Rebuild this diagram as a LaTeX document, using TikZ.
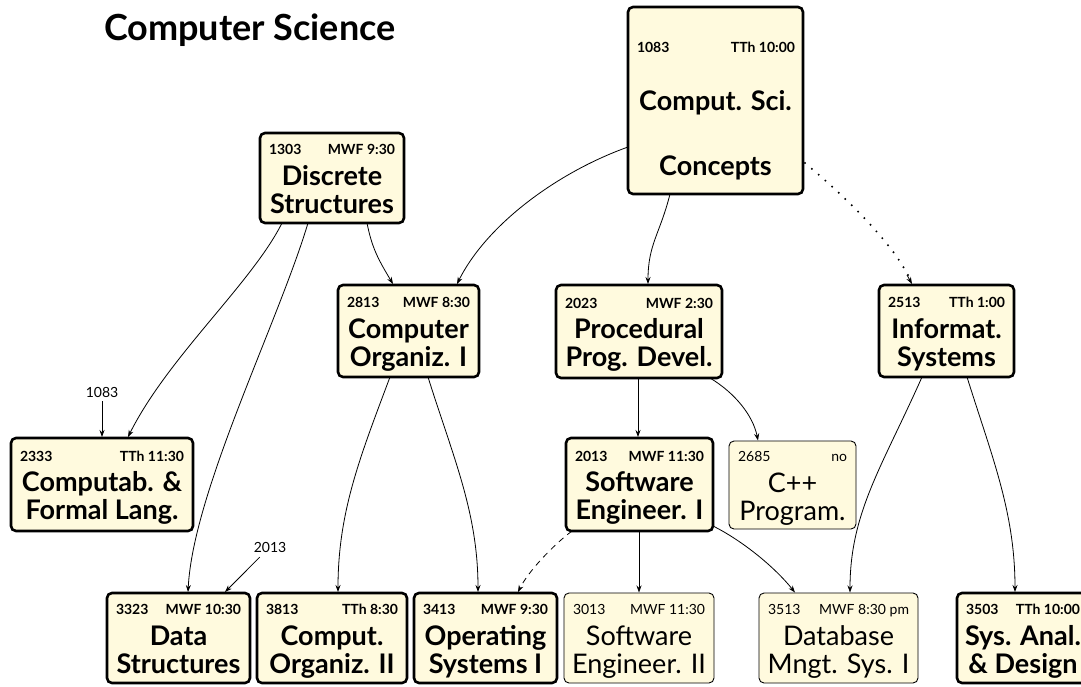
\documentclass[tikz,border=0pt]{standalone}
\usepackage{fontspec}
\setmainfont{Lato}
\usetikzlibrary{arrows.meta,calc}
\definecolor{boxfill}{RGB}{255,250,222}
\newcommand\cfsmall{\fontsize{14}{14}\selectfont}
\newcommand\cfbig{\fontsize{27}{27}\selectfont}
\tikzset{
  cbase/.style={draw, rounded corners=5pt, fill=boxfill, inner sep=0pt, outer sep=0pt},
  heavy/.style={cbase, line width=2.6pt},
  light/.style={cbase, line width=0.9pt},
  txt/.style={inner sep=0pt, outer sep=0pt},
  conn/.style={line width=0.8pt, -{Stealth[length=7pt,width=5pt]}},
  dashconn/.style={conn, dash pattern=on 6pt off 5pt},
  dotconn/.style={line cap=round, dash pattern=on 0pt off 9pt, line width=2.2pt},
  dottip/.style={line width=0.8pt, -{Stealth[length=7pt,width=5pt]}},
}
% box: [style]{name}{x1}{y1}{x2}{y2}
\newcommand\cbox[6][heavy]{%
  \node[#1, minimum width={(#5)-(#3)}, minimum height={(#6)-(#4)}]
    (#2) at ({((#3)+(#5))/2},{((#4)+(#6))/2}) {};}
% text: [weight]{name}{num}{time}{line1}{line2}
\newcommand\ctext[6][\bfseries]{%
  \node[txt, anchor=base west, font=\cfsmall#1] (#2-n) at ($(#2.west)+(9,-23.5)$) {#3};
  \node[txt, anchor=base east, font=\cfsmall#1] (#2-t) at ($(#2.east)+(-9,-23.5)$) {#4};
  \node[txt, anchor=base, font=\cfbig#1] (#2-a) at ($(#2.center)+(0,7)$) {#5};
  \node[txt, anchor=base, font=\cfbig#1] (#2-b) at ($(#2.center)+(0,35)$) {#6};}
\begin{document}
\begin{tikzpicture}[x=1pt,y=-1pt]
\useasboundingbox (0,0) rectangle (1081,686);
\clip (0,0) rectangle (1081,686);

\node[txt, anchor=base west, font=\fontsize{36}{36}\selectfont\bfseries] (title) at (104,40) {Computer Science};

% boxes
\cbox{b1083}{628}{7}{803}{194}
\cbox{b1303}{260}{133}{404}{223}
\cbox{b2813}{338}{285}{479}{377}
\cbox{b2023}{556}{285}{722}{378}
\cbox{b2513}{879}{285}{1014}{377}
\cbox{b2333}{11}{438}{193}{531}
\cbox{b2013}{566}{438}{713}{531}
\cbox[light]{b2685}{729}{441}{856}{529}
\cbox{b3323}{107}{593}{250}{683}
\cbox{b3813}{257}{593}{407}{683}
\cbox{b3413}{414}{593}{557}{683}
\cbox[light]{b3013}{564}{593}{714}{683}
\cbox[light]{b3513}{759}{593}{918}{683}
\cbox{b3503}{957}{593}{1089}{683}

% texts
\node[txt, anchor=base west, font=\cfsmall\bfseries] (b1083-n) at ($(b1083.west)+(9,-48.5)$) {1083};
\node[txt, anchor=base east, font=\cfsmall\bfseries] (b1083-t) at ($(b1083.east)+(-8,-48.5)$) {TTh 10:00};
\node[txt, anchor=base, font=\cfbig\bfseries] (b1083-a) at ($(b1083.center)+(0,9.5)$) {Comput. Sci.};
\node[txt, anchor=base, font=\cfbig\bfseries] (b1083-b) at ($(b1083.center)+(0,74.5)$) {Concepts};

\ctext{b1303}{1303}{MWF 9:30}{Discrete}{Structures}
\ctext{b2813}{2813}{MWF 8:30}{Computer}{Organiz. I}
\ctext{b2023}{2023}{MWF 2:30}{Procedural}{Prog. Devel.}
\ctext{b2513}{2513}{TTh 1:00}{Informat.}{Systems}
\ctext{b2333}{2333}{TTh 11:30}{Computab. \&}{Formal Lang.}
\ctext{b2013}{2013}{MWF 11:30}{Software}{Engineer. I}
\ctext[\mdseries]{b2685}{2685}{no}{C++}{Program.}
\ctext{b3323}{3323}{MWF 10:30}{Data}{Structures}
\ctext{b3813}{3813}{TTh 8:30}{Comput.}{Organiz. II}
\ctext{b3413}{3413}{MWF 9:30}{Operating}{Systems I}
\ctext[\mdseries]{b3013}{3013}{MWF 11:30}{Software}{Engineer. II}
\ctext[\mdseries]{b3513}{3513}{MWF 8:30 pm}{Database}{Mngt. Sys. I}
\ctext{b3503}{3503}{TTh 10:00}{Sys. Anal.}{\& Design}

% outside labels
\node[txt, anchor=base, font=\cfsmall] (l1083) at (102,397) {1083};
\node[txt, anchor=base, font=\cfsmall] (l2013) at (270,552) {2013};

% connectors
\draw[conn] ($(b1083.north west)+(0,140)$) .. controls +(-70,25) and +(30,-60) .. ($(b2813.north west)+(119,-1)$);
\draw[conn] ($(b1083.south west)+(42,0)$) .. controls +(-10,40) and +(0,-40) .. ($(b2023.north west)+(92,-1)$);
\draw[dotconn] ($(b1083.north east)+(2,156)$) .. controls +(30,25) and +(-20,-40) .. ($(b2513.north west)+(30,-8)$);
\draw[dottip] ($(b2513.north west)+(28,-10)$) -- ($(b2513.north west)+(33,-1)$);
\draw[conn] ($(b1303.south west)+(107,0)$) .. controls +(5,25) and +(-15,-25) .. ($(b2813.north west)+(55,-1)$);
\draw[conn] ($(b1303.south west)+(22,0)$) .. controls +(-30,60) and +(40,-80) .. ($(b2333.north west)+(117,-1)$);
\draw[conn] ($(b1303.south west)+(48,0)$) .. controls +(-30,100) and +(5,-100) .. ($(b3323.north west)+(81,-1)$);
\draw[conn] ($(l1083.south)+(0,4)$) -- ($(b2333.north west)+(91,-1)$);
\draw[conn] ($(b2813.south west)+(52,0)$) .. controls +(-30,80) and +(0,-80) .. ($(b3813.north west)+(81,-1)$);
\draw[conn] ($(b2813.south west)+(90,0)$) .. controls +(25,80) and +(0,-80) .. ($(b3413.north west)+(64,-1)$);
\draw[conn] ($(b2023.south west)+(82,0)$) -- ($(b2013.north west)+(72,-1)$);
\draw[conn] ($(b2023.south west)+(154,0)$) .. controls +(25,15) and +(-5,-25) .. ($(b2685.north west)+(29,-0.5)$);
\draw[dashconn] ($(b2013.south west)+(6,0)$) .. controls +(-20,15) and +(10,-20) .. ($(b3413.north west)+(104,-1)$);
\draw[conn] ($(b2013.south west)+(73,0)$) -- ($(b3013.north west)+(75,-0.5)$);
\draw[conn] ($(b2013.south east)+(0,-5)$) .. controls +(30,15) and +(-20,-25) .. ($(b3513.north west)+(36,-0.5)$);
\draw[conn] ($(b2513.south west)+(43,0)$) .. controls +(-40,90) and +(0,-80) .. ($(b3513.north west)+(91,-0.5)$);
\draw[conn] ($(b2513.south west)+(88,0)$) .. controls +(25,80) and +(0,-80) .. ($(b3503.north west)+(58,-1)$);
\draw[conn] ($(l2013.south west)+(6,5)$) -- ($(b3323.north west)+(118,-1)$);
\end{tikzpicture}
\end{document}
